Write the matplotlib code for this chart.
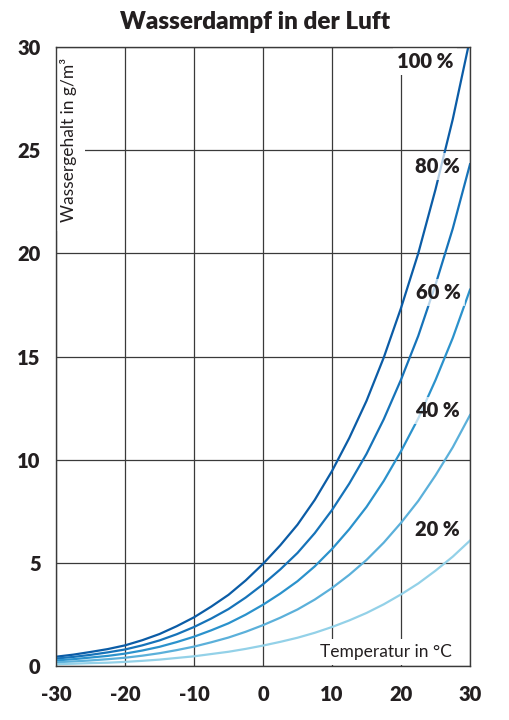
import numpy as np
import matplotlib
matplotlib.use("Agg")
import matplotlib.pyplot as plt

plt.rcParams["font.family"] = ["Lato", "DejaVu Sans"]

TEXT = "#231f20"
GRID = "#3a3a3a"

# Temperatur (°C) und Wassergehalt (g/m³) je relative Feuchte
temp = [-30, -27.5, -25, -22.5, -20, -17.5, -15, -12.5, -10, -7.5, -5, -2.5,
        0, 2.5, 5, 7.5, 10, 12.5, 15, 17.5, 20, 22.5, 25, 27.5, 30]
rh100 = [0.45, 0.55, 0.68, 0.82, 1.0, 1.25, 1.55, 1.93, 2.36, 2.88, 3.45, 4.15,
         4.95, 5.85, 6.85, 8.05, 9.45, 11.05, 12.85, 14.95, 17.35, 20.0, 23.1, 26.5, 30.4]
rh80 = [0.36, 0.44, 0.54, 0.66, 0.8, 1.0, 1.24, 1.54, 1.89, 2.3, 2.76, 3.32,
        3.96, 4.68, 5.48, 6.44, 7.56, 8.84, 10.28, 11.96, 13.88, 16.0, 18.48, 21.2, 24.32]
rh60 = [0.27, 0.33, 0.41, 0.49, 0.6, 0.75, 0.93, 1.16, 1.42, 1.73, 2.07, 2.49,
        2.97, 3.51, 4.11, 4.83, 5.67, 6.63, 7.71, 8.97, 10.41, 12.0, 13.86, 15.9, 18.24]
rh40 = [0.18, 0.22, 0.27, 0.33, 0.4, 0.5, 0.62, 0.77, 0.94, 1.15, 1.38, 1.66,
        1.98, 2.34, 2.74, 3.22, 3.78, 4.42, 5.14, 5.98, 6.94, 8.0, 9.24, 10.6, 12.16]
rh20 = [0.09, 0.11, 0.14, 0.16, 0.2, 0.25, 0.31, 0.39, 0.47, 0.58, 0.69, 0.83,
        0.99, 1.17, 1.37, 1.61, 1.89, 2.21, 2.57, 2.99, 3.47, 4.0, 4.62, 5.3, 6.08]

series = [rh100, rh80, rh60, rh40, rh20]
labels = ["100 %", "80 %", "60 %", "40 %", "20 %"]
colors = ["#0b5ca6", "#1673b9", "#2b92cc", "#5bb0da", "#93d1e8"]
# Beschriftungspositionen (Daten-Koordinaten)
lab_x = [23.5, 25.3, 25.4, 25.3, 25.3]
lab_y = [29.3, 24.2, 18.1, 12.4, 6.6]

xticks = [-30, -20, -10, 0, 10, 20, 30]
yticks = [0, 5, 10, 15, 20, 25, 30]

fig = plt.figure(figsize=(5.1, 7.2), dpi=100, facecolor="white")
ax = fig.add_axes([0.1098, 0.075, 0.8118, 0.8597])

for s, c in zip(series, colors):
    ax.plot(temp, s, color=c, lw=1.6, zorder=3, solid_joinstyle="round")

ax.set_xlim(-30, 30)
ax.set_ylim(0, 30)
ax.set_xticks(xticks)
ax.set_yticks(yticks)
ax.set_xticklabels([str(v) for v in xticks], fontsize=14.5, fontweight="heavy", color=TEXT)
ax.set_yticklabels([str(v) for v in yticks], fontsize=14.5, fontweight="heavy", color=TEXT)
ax.tick_params(length=0)
ax.tick_params(axis="x", pad=14)
ax.tick_params(axis="y", pad=11)
ax.grid(True, color=GRID, lw=0.9, zorder=1)
ax.set_axisbelow(True)
for sp in ax.spines.values():
    sp.set_color(GRID)
    sp.set_linewidth(1.0)
    sp.set_zorder(7)

for lab, x, y in zip(labels, lab_x, lab_y):
    alpha = 1.0 if lab == "100 %" else 0.7
    ax.text(x, y, lab, ha="center", va="center", fontsize=14.5, fontweight="heavy",
            color=TEXT, zorder=5,
            bbox=dict(boxstyle="square,pad=0.2", facecolor="white", edgecolor="none",
                      alpha=alpha))

ax.text(0.029, 0.982, "Wassergehalt in g/m³", transform=ax.transAxes, rotation=90,
        ha="center", va="top", fontsize=12.5, color=TEXT, zorder=5,
        bbox=dict(boxstyle="square,pad=0.5", facecolor="white", edgecolor="none"))
ax.text(0.957, 0.01, "Temperatur in °C", transform=ax.transAxes,
        ha="right", va="bottom", fontsize=12.5, color=TEXT, zorder=5,
        bbox=dict(boxstyle="square,pad=0.3", facecolor="white", edgecolor="none"))

fig.text(0.5, 0.970, "Wasserdampf in der Luft", ha="center", va="center",
         fontsize=17.5, fontweight="heavy", color=TEXT)

fig.savefig("out.png", dpi=100, facecolor="white")
